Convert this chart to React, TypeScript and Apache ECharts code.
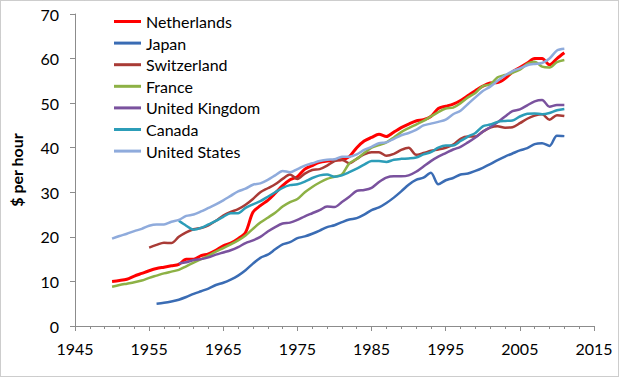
import React, { useEffect, useRef } from "react";
import * as echarts from "echarts";

const seriesNames = [
  "Netherlands",
  "Japan",
  "Switzerland",
  "France",
  "United Kingdom",
  "Canada",
  "United States",
];

const xTicks = [1945, 1955, 1965, 1975, 1985, 1995, 2005, 2015];
const yTicks = [0, 10, 20, 30, 40, 50, 60, 70];

const netherlandsStart = 1950;
const netherlands = [
  10.0, 10.2, 10.5, 11.2, 11.8, 12.4, 12.9, 13.2, 13.5, 13.8,
  15.0, 15.0, 15.8, 16.2, 17.0, 18.0, 18.6, 19.6, 21.0, 25.5,
  27.0, 28.2, 29.8, 31.5, 32.8, 33.5, 35.2, 36.0, 36.7, 37.0,
  37.2, 37.3, 38.0, 40.0, 41.5, 42.3, 43.0, 42.5, 43.5, 44.5,
  45.3, 46.0, 46.3, 47.0, 48.8, 49.3, 49.8, 50.6, 51.7, 52.8,
  53.8, 54.5, 54.6, 55.5, 57.0, 58.0, 59.0, 60.0, 60.0, 58.6,
  60.0, 61.3,
];

const japanStart = 1956;
const japan = [
  5.0, 5.2, 5.5, 5.9, 6.5, 7.2, 7.8, 8.4, 9.2, 9.7,
  10.4, 11.3, 12.5, 14.0, 15.3, 16.0, 17.2, 18.3, 18.8, 19.7,
  20.1, 20.7, 21.4, 22.2, 22.6, 23.3, 23.9, 24.2, 25.0, 26.0,
  26.6, 27.6, 28.8, 30.2, 31.7, 32.8, 33.3, 34.4, 31.8, 32.7,
  33.2, 34.0, 34.2, 34.8, 35.5, 36.3, 37.2, 38.0, 38.7, 39.4,
  39.9, 40.8, 41.0, 40.4, 42.7, 42.6,
];

const switzerlandStart = 1955;
const switzerland = [
  17.6, 18.2, 18.7, 18.6, 20.0, 21.0, 21.7, 22.0, 22.6, 23.6,
  24.8, 25.6, 26.2, 27.2, 28.5, 30.0, 30.9, 31.8, 33.0, 34.0,
  33.0, 34.2, 35.0, 35.2, 36.0, 37.0, 37.3, 36.5, 37.5, 38.5,
  39.0, 39.0, 38.2, 38.6, 39.5, 40.0, 38.4, 38.8, 39.3, 39.6,
  40.0, 40.7, 42.0, 42.5, 42.5, 43.6, 44.5, 44.8, 44.5, 44.6,
  45.5, 46.5, 47.2, 47.5, 46.3, 47.3, 47.1,
];

const franceStart = 1950;
const france = [
  8.8, 9.2, 9.5, 9.8, 10.2, 10.8, 11.3, 11.8, 12.2, 12.6,
  13.4, 14.2, 15.0, 15.8, 16.7, 17.5, 18.3, 19.2, 20.3, 21.8,
  23.2, 24.3, 25.4, 26.8, 27.8, 28.5, 30.0, 31.2, 32.2, 33.0,
  33.5, 34.0, 36.5, 37.5, 38.8, 40.0, 40.6, 41.2, 42.3, 43.5,
  44.4, 45.2, 46.0, 47.0, 48.0, 48.8, 49.0, 50.0, 51.3, 52.3,
  53.8, 54.2, 55.8, 56.3, 56.8, 57.5, 58.8, 59.3, 58.2, 58.0,
  59.2, 59.7,
];

const ukStart = 1959;
const uk = [
  14.0, 14.3, 14.8, 15.0, 15.4, 16.0, 16.5, 17.0, 17.7, 18.6,
  19.2, 20.0, 21.2, 22.2, 23.0, 23.2, 23.8, 24.6, 25.3, 26.0,
  26.8, 26.7, 27.8, 29.0, 30.3, 30.5, 31.0, 32.3, 33.3, 33.6,
  33.6, 33.8, 34.6, 35.8, 37.0, 38.0, 38.8, 39.6, 40.2, 41.2,
  42.3, 43.6, 44.6, 45.7, 47.0, 48.2, 48.6, 49.5, 50.4, 50.7,
  49.2, 49.6, 49.6,
];

const canadaStart = 1959;
const canada = [
  23.6, 22.5, 21.6, 22.0, 22.8, 23.6, 24.5, 25.3, 25.3, 26.5,
  27.3, 28.0, 29.0, 30.0, 31.0, 31.6, 31.8, 32.4, 33.2, 33.8,
  34.0, 33.5, 33.8, 34.5, 35.3, 36.2, 37.0, 37.0, 36.8, 37.3,
  37.5, 37.6, 37.8, 38.5, 39.0, 40.0, 40.5, 40.5, 41.5, 42.5,
  43.3, 44.8, 45.2, 45.8, 46.0, 46.1, 47.0, 47.6, 47.7, 47.5,
  47.8, 48.4, 48.7,
];

const usStart = 1950;
const us = [
  19.6, 20.2, 20.7, 21.3, 21.8, 22.5, 22.8, 22.8, 23.4, 23.8,
  24.7, 25.0, 25.7, 26.5, 27.3, 28.2, 29.2, 30.2, 30.8, 31.7,
  32.0, 32.8, 33.8, 34.8, 34.5, 35.2, 36.0, 36.5, 37.0, 37.3,
  37.4, 38.0, 38.0, 38.5, 39.5, 40.2, 41.0, 41.2, 42.0, 42.8,
  43.3, 44.0, 45.0, 45.4, 45.8, 46.3, 47.5, 48.3, 49.8, 51.3,
  52.7, 53.7, 55.0, 56.2, 57.2, 57.8, 58.5, 58.8, 59.0, 60.0,
  61.8, 62.2,
];

const seriesStarts = [netherlandsStart, japanStart, switzerlandStart, franceStart, ukStart, canadaStart, usStart];
const seriesValues = [netherlands, japan, switzerland, france, uk, canada, us];
const seriesColors = ["#FF0000", "#3A6CB4", "#A93B36", "#8DB145", "#7A529E", "#2C9DB8", "#8FABDC"];
const seriesWidths = [3, 2.5, 2.5, 2.5, 2.5, 2.5, 2.5];

const FONT = "Lato, 'Open Sans', sans-serif";

export default function App() {
  const ref = useRef<HTMLDivElement>(null);

  useEffect(() => {
    if (!ref.current) return;
    const chart = echarts.init(ref.current, undefined, { renderer: "svg" });
    const series = seriesNames.map((name, i) => ({
      name,
      type: "line",
      data: seriesValues[i].map((v, j) => [seriesStarts[i] + j, v]),
      smooth: 0.3,
      symbol: "none",
      showSymbol: false,
      lineStyle: { color: seriesColors[i], width: seriesWidths[i] },
      itemStyle: { color: seriesColors[i] },
    }));
    chart.setOption({
      animation: false,
      backgroundColor: "#ffffff",
      grid: { left: 75, right: 25, top: 14, bottom: 51, containLabel: false },
      graphic: [
        {
          type: "rect",
          shape: { x: 0.5, y: 0.5, width: 618, height: 376 },
          style: { fill: "none", stroke: "#9a9a9a", lineWidth: 1, lineDash: [1, 1] },
          silent: true,
        },
      ],
      legend: {
        data: seriesNames,
        orient: "vertical",
        left: 114,
        top: 13.5,
        padding: 0,
        icon: "rect",
        itemWidth: 27,
        itemHeight: 3,
        itemGap: 5.6,
        textStyle: { fontFamily: FONT, fontSize: 16, color: "#000", lineHeight: 16 },
      },
      xAxis: {
        type: "value",
        min: xTicks[0],
        max: xTicks[xTicks.length - 1],
        interval: 10,
        axisLine: { show: true, lineStyle: { color: "#8c8c8c", width: 1 } },
        axisTick: { show: true, length: 5, lineStyle: { color: "#8c8c8c" } },
        minorTick: { show: true, splitNumber: 5, length: 3, lineStyle: { color: "#8c8c8c" } },
        splitLine: { show: false },
        axisLabel: {
          margin: 14,
          fontFamily: FONT,
          fontSize: 16,
          color: "#000",
          formatter: (v: number) => String(v),
        },
      },
      yAxis: {
        type: "value",
        min: yTicks[0],
        max: yTicks[yTicks.length - 1],
        interval: 10,
        name: "$ per hour",
        nameLocation: "middle",
        nameGap: 51,
        nameTextStyle: { fontFamily: FONT, fontSize: 16, fontWeight: "bold", color: "#000" },
        axisLine: { show: true, lineStyle: { color: "#8c8c8c", width: 1 } },
        axisTick: { show: true, length: 5, lineStyle: { color: "#8c8c8c" } },
        splitLine: { show: false },
        axisLabel: { margin: 16, fontFamily: FONT, fontSize: 16, color: "#000" },
      },
      series,
    });
    return () => chart.dispose();
  }, []);

  return (
    <div
      ref={ref}
      style={{ position: "absolute", left: 0, top: 0, width: 619, height: 377 }}
    />
  );
}
